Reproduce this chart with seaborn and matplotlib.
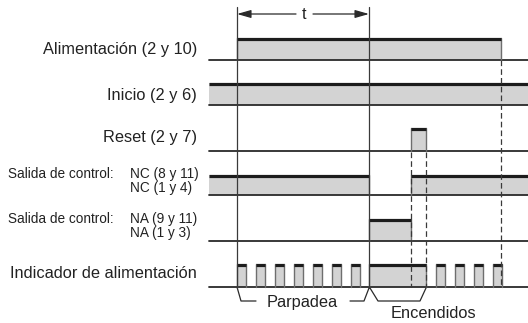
import matplotlib
matplotlib.use("Agg")
import pandas as pd
import seaborn as sns
import matplotlib.pyplot as plt
from matplotlib import font_manager

# timing data, horizontal diagram units
x_left, x_right = 209, 528
t_start, t_end = 237, 369

alim_on = [(237, 501)]
inicio_on = [(209, 528)]
reset_on = [(411, 426)]
nc_on = [(209, 369), (411, 528)]
na_on = [(369, 411)]
blink_starts = [236.5, 255.5, 274.5, 293.5, 312.5, 331.5, 350.5, 435.5, 454.5, 473.5, 492.5]
blink_len = 9.8
steady_on = [(369, 426)]
ind_on = [(s, s + blink_len) for s in blink_starts] + steady_on

dashed_x = [411, 426, 501]
dashed_from = [152, 152, 60]

row_spans = [alim_on, inicio_on, reset_on, nc_on, na_on, ind_on]

# layout (pixel rows)
row_base = [60, 105, 151, 195, 241, 287]
row_top = [38, 83, 128, 175, 219, 264]

FILL = "#d3d3d3"
EDGE = "#6e6e6e"
TOP = "#1c1c1c"
LINE = "#2a2a2a"

sns.set_theme(style="white")


def has_font(name):
    try:
        font_manager.findfont(name, fallback_to_default=False)
        return True
    except Exception:
        return False


main_font = "Liberation Sans" if has_font("Liberation Sans") else "DejaVu Sans"
narrow = has_font("Liberation Sans Narrow")
small_font = "Liberation Sans Narrow" if narrow else main_font
small_size = 11.3 if narrow else 9.8
plt.rcParams["font.family"] = [main_font, "DejaVu Sans"]

fig = plt.figure(figsize=(5.28, 3.23), dpi=100)
ax = fig.add_axes([0, 0, 1, 1])
ax.set_xlim(0, 528)
ax.set_ylim(323, 0)
ax.axis("off")

# baselines via seaborn
base_df = pd.DataFrame({
    "x": [x_left, x_right] * len(row_base),
    "y": [b for b in row_base for _ in range(2)],
    "row": [i for i in range(len(row_base)) for _ in range(2)],
})
sns.lineplot(data=base_df, x="x", y="y", units="row", estimator=None,
             color=LINE, lw=1.3, ax=ax, legend=False, sort=False)

# pulses
for spans, base, top in zip(row_spans, row_base, row_top):
    for a, b in spans:
        ax.fill_between([a, b], base, top, color=FILL, lw=0, zorder=1)
        if a > x_left:
            ax.plot([a, a], [base, top], color=EDGE, lw=1.0, zorder=2)
        if b < x_right:
            ax.plot([b, b], [base, top], color=EDGE, lw=1.0, zorder=2)
        ax.plot([a, b], [top + 1, top + 1], color=TOP, lw=2.3,
                solid_capstyle="butt", zorder=3)

ax.set_xlim(0, 528)
ax.set_ylim(323, 0)

# time markers
for x in (t_start, t_end):
    ax.plot([x, x], [7, 288], color="#3a3a3a", lw=0.9, zorder=4)
for x, y0 in zip(dashed_x, dashed_from):
    ax.plot([x, x], [y0, 287], color="#3a3a3a", lw=0.9,
            dashes=(4.5, 2.5), zorder=4)

# t arrow
ax.annotate("", xy=(t_start, 14), xytext=(296, 14),
            arrowprops=dict(arrowstyle="-|>,head_length=0.7,head_width=0.2",
                            color=LINE, lw=0.9, shrinkA=0, shrinkB=0))
ax.annotate("", xy=(t_end, 14), xytext=(313, 14),
            arrowprops=dict(arrowstyle="-|>,head_length=0.7,head_width=0.2",
                            color=LINE, lw=0.9, shrinkA=0, shrinkB=0))
ax.text(304.5, 19.3, "t", ha="center", va="baseline", fontsize=11.8, color="#222")

# braces
ax.plot([237, 241, 256], [287, 301, 301], color=LINE, lw=0.9)
ax.plot([350, 364, 369], [301, 301, 288], color=LINE, lw=0.9)
ax.plot([370, 378, 420, 426], [288, 301, 301, 288], color=LINE, lw=0.9)
ax.text(302, 306.7, "Parpadea", ha="center", va="baseline", fontsize=11.8, color="#222")
ax.text(433.5, 318.3, "Encendidos", ha="center", va="baseline", fontsize=11.8, color="#222")

# row labels
big = dict(ha="right", va="baseline", fontsize=11.8, color="#222")
ax.text(197, 54, "Alimentación (2 y 10)", **big)
ax.text(197, 100, "Inicio (2 y 6)", **big)
ax.text(197, 142.3, "Reset (2 y 7)", **big)
ax.text(197, 278.3, "Indicador de alimentación", **big)

small = dict(ha="left", va="baseline", fontsize=small_size, color="#222",
             family=[small_font, "DejaVu Sans"])
ax.text(8, 178.3, "Salida de control:", **small)
ax.text(130, 178.3, "NC (8 y 11)", **small)
ax.text(130, 191.7, "NC (1 y 4)", **small)
ax.text(8, 223.3, "Salida de control:", **small)
ax.text(130, 223.3, "NA (9 y 11)", **small)
ax.text(130, 237.3, "NA (1 y 3)", **small)

fig.savefig("out.png", dpi=100)
